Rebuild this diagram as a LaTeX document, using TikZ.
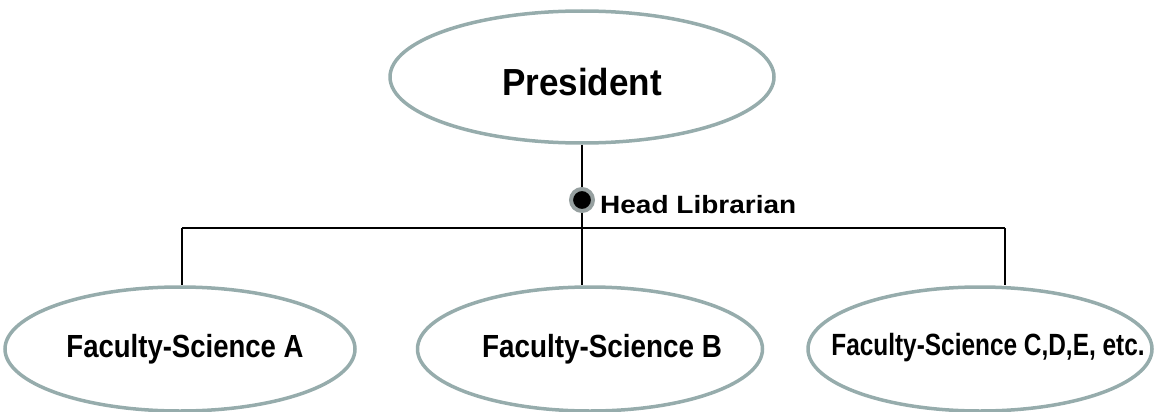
\documentclass[tikz,border=0pt]{standalone}
\usepackage{fontspec}
\setmainfont{Liberation Sans}
\usepackage{graphicx}
\usetikzlibrary{shapes.geometric}
\definecolor{ellgray}{RGB}{150,172,172}
\definecolor{ringgray}{RGB}{150,160,160}
\begin{document}
\begin{tikzpicture}[x=1pt,y=-1pt,
  ellbox/.style={ellipse, draw=ellgray, line width=3.5pt, inner sep=0pt, minimum height=124pt},
  conn/.style={draw=black, line width=2.6pt},
  txt/.style={inner sep=0pt, anchor=base, font=\bfseries},
  hldot/.style={circle, fill=black, draw=ringgray, line width=4pt, minimum size=22pt, inner sep=0pt}]
\useasboundingbox (0,0) rectangle (1156,412);
% ellipses
\node[ellbox, minimum width=384pt, minimum height=132pt] (pres) at (582,77) {};
\node[ellbox, minimum width=350pt] (A) at (180,349) {};
\node[ellbox, minimum width=345pt] (B) at (590,349) {};
\node[ellbox, minimum width=344pt] (C) at (980,349) {};
% texts
\node[txt] (presT) at (582,95) {\fontsize{37.7}{40}\selectfont\scalebox{0.93}[1]{President}};
\node[txt] (AT) at (185,357) {\fontsize{32}{34}\selectfont\scalebox{0.86}[1]{Faculty-Science A}};
\node[txt] (BT) at (602,357) {\fontsize{32}{34}\selectfont\scalebox{0.87}[1]{Faculty-Science B}};
\node[txt] (CT) at (988,355) {\fontsize{30.7}{32}\selectfont\scalebox{0.795}[1]{Faculty-Science C,D,E, etc.}};
% connectors
\coordinate (jA) at (182,228);
\coordinate (jB) at (582,228);
\coordinate (jC) at (1005,228);
\draw[conn] (pres.south) -- (jB);
\draw[conn] (jA) -- (jC);
\draw[conn] (jA) -- (jA |- A.north);
\draw[conn] (jB) -- (jB |- B.north);
\draw[conn] (jC) -- (jC |- C.north);
% head librarian
\node[hldot] (hl) at (582,200) {};
\node[txt, anchor=base west] (hlT) at (600,213) {\fontsize{25}{27}\selectfont\scalebox{1.12}[1]{Head Librarian}};
\end{tikzpicture}
\end{document}
